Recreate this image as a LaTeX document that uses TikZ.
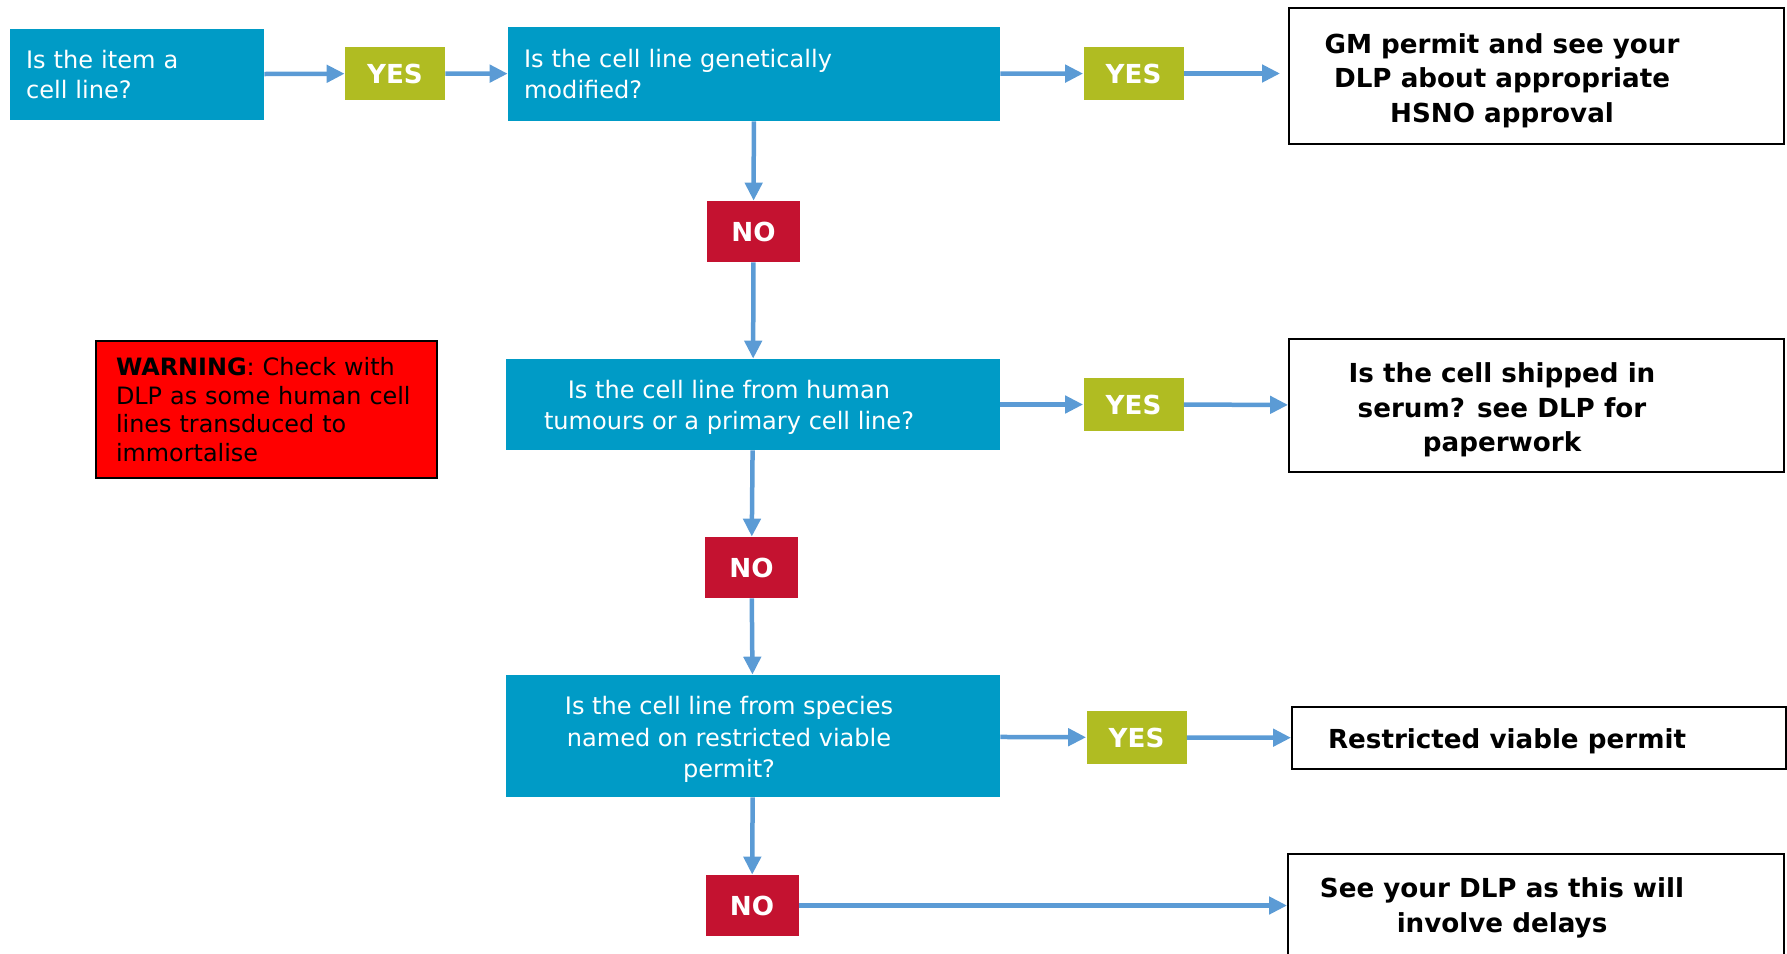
\documentclass[tikz,border=0pt]{standalone}
\usepackage{fontspec}
\setmainfont{DejaVu Sans}
\usetikzlibrary{arrows.meta}

\definecolor{qblue}{RGB}{0,155,198}
\definecolor{yesgreen}{RGB}{176,188,34}
\definecolor{nored}{RGB}{196,18,48}
\definecolor{flowblue}{RGB}{91,155,213}

\tikzset{
  qbox/.style={fill=qblue, text=white, inner xsep=0.32cm, inner ysep=0pt, align=left,
    font=\fontsize{13.7}{17.5}\selectfont},
  qtext/.style={text=white, align=center, inner sep=0pt, font=\fontsize{13.7}{17.8}\selectfont},
  yesbox/.style={fill=yesgreen, text=white, minimum width=2cm, minimum height=1.06cm,
    font=\fontsize{14.9}{18}\selectfont\bfseries},
  nobox/.style={fill=nored, text=white, minimum width=1.86cm, minimum height=1.22cm,
    font=\fontsize{14.9}{18}\selectfont\bfseries},
  outbox/.style={draw=black, line width=1.1pt, fill=white},
  outtext/.style={align=center, inner sep=0pt, font=\fontsize{14.9}{19.7}\selectfont\bfseries},
  warnbox/.style={draw=black, line width=1.1pt, fill=red, align=left, inner xsep=0.4cm,
    font=\fontsize{13.6}{16.4}\selectfont},
  flow/.style={draw=flowblue, line width=0.09cm, -{Triangle[length=0.36cm,width=0.34cm]}}
}

\begin{document}
\begin{tikzpicture}[x=0.02cm, y=-0.02cm]
  \useasboundingbox (0,0) rectangle (1787,953);
  % first row
  \node[qbox, text width=4.44cm, minimum height=1.82cm] (q1) at (137,74.5) {Is the item a\\cell line?};
  \node[yesbox] (y1) at (395,73.5) {YES};
  \node[qbox, text width=9.2cm, minimum height=1.88cm] (q2) at (754,74) {Is the cell line genetically\\modified?};
  \node[yesbox] (y2) at (1133.5,73.5) {YES};
  \node[outbox, minimum width=9.9cm, minimum height=2.72cm] (gm) at (1536.5,76) {};
  \node[outtext, xshift=-0.69cm, yshift=-0.09cm] (gmtext) at (gm) {GM permit and see your\\DLP about appropriate\\HSNO approval};
  \node[nobox] (n1) at (753.5,231.5) {NO};
  % second row
  \node[warnbox, text width=6.02cm, minimum height=2.74cm] (warn) at (266.5,409.5) {\textbf{WARNING}: Check with\\DLP as some human cell\\lines transduced to\\immortalise};
  \node[qbox, minimum width=9.88cm, minimum height=1.82cm] (q3) at (753,404.5) {};
  \node[qtext, xshift=-0.48cm, yshift=-0.05cm] (q3text) at (q3) {Is the cell line from human\\tumours or a primary cell line?};
  \node[yesbox] (y3) at (1133.5,404.5) {YES};
  \node[outbox, minimum width=9.9cm, minimum height=2.66cm] (serum) at (1536.5,405.5) {};
  \node[outtext, xshift=-0.69cm, yshift=-0.09cm] (serumtext) at (serum) {Is the cell shipped in\\serum? see DLP for\\paperwork};
  \node[nobox] (n2) at (751.5,567.5) {NO};
  % third row
  \node[qbox, minimum width=9.88cm, minimum height=2.44cm] (q4) at (753,736) {};
  \node[qtext, xshift=-0.48cm, yshift=-0.07cm] (q4text) at (q4) {Is the cell line from species\\named on restricted viable\\permit?};
  \node[yesbox] (y4) at (1136.5,737.5) {YES};
  \node[outbox, minimum width=9.88cm, minimum height=1.24cm] (restr) at (1539,738) {};
  \node[outtext, xshift=-0.64cm, yshift=-0.07cm] (restrtext) at (restr) {Restricted viable permit};
  \node[nobox] (n3) at (752,905.5) {NO};
  % last box runs off the bottom edge
  \node[outbox, minimum width=9.92cm, minimum height=3cm] (delays) at (1536,929) {};
  \node[outtext] (delaystext) at (1502,908) {See your DLP as this will\\involve delays};
  % arrows
  \draw[flow] (q1) -- (y1);
  \draw[flow] (y1) -- (q2);
  \draw[flow] (q2) -- (y2);
  \draw[flow, shorten >=0.16cm] (y2.east) -- (y2.east -| gm.west);
  \draw[flow] (q2) -- (n1);
  \draw[flow] (n1) -- (q3);
  \draw[flow] (q3) -- (y3);
  \draw[flow] (y3) -- (serum);
  \draw[flow] (q3) -- (n2);
  \draw[flow] (n2) -- (q4);
  \draw[flow] (q4) -- (y4);
  \draw[flow] (y4) -- (restr);
  \draw[flow] (q4) -- (n3);
  \draw[flow] (n3.east) -- (n3.east -| delays.west);
\end{tikzpicture}
\end{document}
